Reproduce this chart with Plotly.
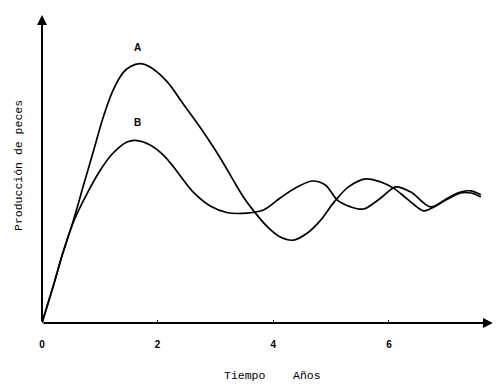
import plotly.graph_objects as go

# Curve A (Producción de peces vs Tiempo, años)
a_x = [0, 0.19, 0.36, 0.53, 0.71, 0.88, 1.06, 1.23, 1.40, 1.53, 1.70, 1.87, 2.17, 2.44, 2.74, 2.96,
       3.14, 3.31, 3.48, 3.66, 3.90, 4.12, 4.35, 4.59, 4.82, 5.04, 5.30, 5.60, 5.86, 6.08, 6.34,
       6.60, 6.78, 7.02, 7.24, 7.42, 7.59]
a_y = [0, 1.17, 2.27, 3.25, 4.42, 5.52, 6.69, 7.56, 8.12, 8.33, 8.42, 8.31, 7.82, 7.12, 6.34, 5.72,
       5.18, 4.63, 4.10, 3.64, 3.12, 2.79, 2.69, 2.92, 3.34, 3.90, 4.42, 4.68, 4.58, 4.38, 3.99,
       3.64, 3.77, 4.06, 4.25, 4.29, 4.16]

# Curve B
b_x = [0, 0.19, 0.36, 0.53, 0.71, 1.01, 1.23, 1.47, 1.62, 1.87, 2.10, 2.27, 2.39, 2.62, 2.91, 3.21,
       3.55, 3.83, 4.12, 4.42, 4.68, 4.90, 5.11, 5.34, 5.56, 5.86, 6.12, 6.38, 6.72, 7.02, 7.24,
       7.42, 7.59]
b_y = [0, 1.17, 2.27, 3.22, 3.95, 4.97, 5.52, 5.88, 5.93, 5.78, 5.45, 5.08, 4.78, 4.24, 3.80, 3.58,
       3.57, 3.67, 4.06, 4.42, 4.61, 4.48, 3.99, 3.77, 3.70, 4.06, 4.42, 4.25, 3.77, 4.03, 4.22,
       4.22, 4.09]

tick_vals = [0, 2, 4, 6]
tick_text = ["0", "2", "4", "6"]
x_title = "Tiempo    Años"
y_title = "Producción de peces"
labels = [("A", 1.66, 8.95), ("B", 1.65, 6.5)]

X_MAX = 7.8
Y_MAX = 10

fig = go.Figure()
for xs, ys in [(a_x, a_y), (b_x, b_y)]:
    fig.add_trace(go.Scatter(x=xs, y=ys, mode="lines",
                             line=dict(color="black", width=1.7, shape="spline", smoothing=0.9),
                             showlegend=False, hoverinfo="skip"))

mono = "Liberation Mono"

for txt, lx, ly in labels:
    fig.add_annotation(x=lx, y=ly, text=f"<b>{txt}</b>", showarrow=False,
                       font=dict(family="Liberation Sans", size=10, color="black"))

# axis arrows
fig.add_annotation(x=X_MAX, y=0, ax=0, ay=0, xref="x", yref="y", axref="x", ayref="y",
                   showarrow=True, arrowhead=2, arrowsize=1, arrowwidth=2, arrowcolor="black", text="")
fig.add_annotation(x=0, y=Y_MAX, ax=0, ay=0, xref="x", yref="y", axref="x", ayref="y",
                   showarrow=True, arrowhead=2, arrowsize=1, arrowwidth=2, arrowcolor="black", text="")

fig.add_annotation(x=0.5, y=0, xref="paper", yref="paper", xanchor="center", yanchor="middle",
                   yshift=-52, xshift=5,
                   text=x_title, showarrow=False,
                   font=dict(family=mono, size=11.5, color="black"))
fig.add_annotation(x=0, y=0.5, xref="paper", yref="paper", xanchor="center", yanchor="middle",
                   xshift=-24, yshift=3,
                   text=y_title, textangle=-90, showarrow=False,
                   font=dict(family=mono, size=11.5, color="black"))

fig.update_xaxes(range=[0, X_MAX], showgrid=False, zeroline=False, showline=False,
                 automargin=False,
                 tickmode="array", tickvals=tick_vals, ticktext=[f"<b>{t}</b>" for t in tick_text],
                 ticks="inside", ticklen=3, tickwidth=1, tickcolor="black",
                 ticklabelstandoff=14,
                 tickfont=dict(family="Liberation Sans", size=10, color="black"))
fig.update_yaxes(range=[0, Y_MAX], showgrid=False, zeroline=False, showline=False,
                 automargin=False, showticklabels=False, ticks="")

# page body adds an 8px offset, so the figure is 8px smaller and margins shifted
fig.update_layout(width=492, height=376, margin=dict(l=34, r=7, t=7, b=61),
                  plot_bgcolor="white", paper_bgcolor="white")

fig.write_html("out.html")
